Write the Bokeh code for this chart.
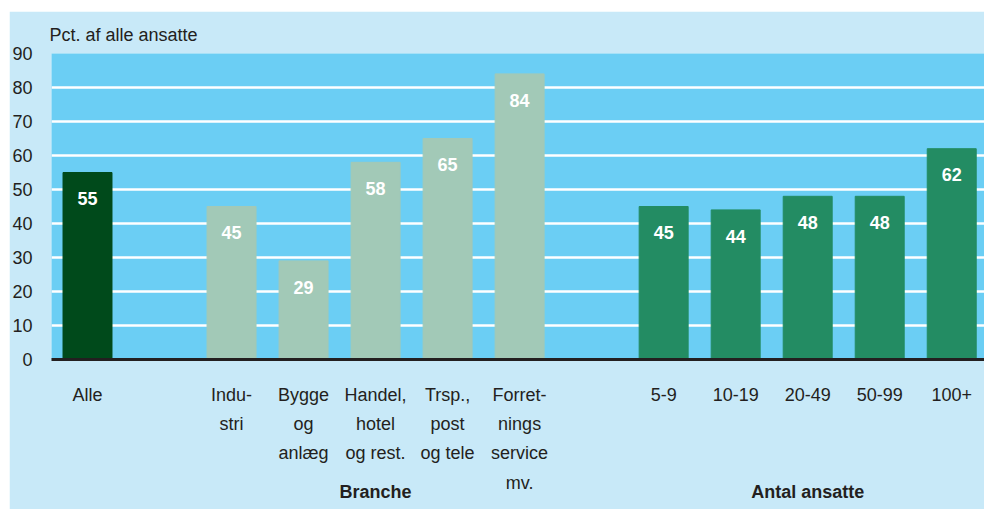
from bokeh.plotting import figure
from bokeh.models import ColumnDataSource, FixedTicker, Range1d, LinearAxis
from bokeh.embed import file_html
from bokeh.resources import INLINE
from bokeh.core.properties import value

# ---- data ----
total_label = ["Alle"]
total_values = [55]
branche_labels = ["Indu-\nstri", "Bygge\nog\nanlæg", "Handel,\nhotel\nog rest.",
                  "Trsp.,\npost\nog tele", "Forret-\nnings\nservice\nmv."]
branche_values = [45, 29, 58, 65, 84]
size_labels = ["5-9", "10-19", "20-49", "50-99", "100+"]
size_values = [45, 44, 48, 48, 62]
group_titles = ["Branche", "Antal ansatte"]
y_title = "Pct. af alle ansatte"
y_ticks = [0, 10, 20, 30, 40, 50, 60, 70, 80, 90]

FONT = "Liberation Sans"
C_OUT = "#C8E9F8"
C_FRAME = "#6BCEF4"
C_TOTAL = "#004A1B"
C_BRANCHE = "#A2C9B7"
C_SIZE = "#238C63"
C_TEXT = "#231F20"
FS = "18px"

# slot positions: total, gap, branche group, gap, size group
groups = [(total_label, total_values, C_TOTAL),
          (branche_labels, branche_values, C_BRANCHE),
          (size_labels, size_values, C_SIZE)]
xs, vals, cols, labs = [], [], [], []
pos = 0
group_centers = []
for labels, values, col in groups:
    start = pos
    for l, v in zip(labels, values):
        xs.append(pos); vals.append(v); cols.append(col); labs.append(l)
        pos += 1
    group_centers.append((start + pos - 1) / 2)
    pos += 1

src = ColumnDataSource(dict(x=xs, top=vals, color=cols,
                            txt=[str(v) for v in vals],
                            ty=[v - 7.7 for v in vals]))

p = figure(width=975, height=498, output_backend="svg", toolbar_location=None,
           x_range=Range1d(-0.5, 12.455), y_range=Range1d(0, 90),
           min_border_left=40, min_border_right=0, min_border_top=42,
           min_border_bottom=150, margin=(11, 0, 0, 9))
p.background_fill_color = C_FRAME
p.border_fill_color = C_OUT
p.outline_line_color = None

p.vbar(x="x", top="top", width=0.68, bottom=0, color="color", source=src)
p.text(x="x", y="ty", text="txt", source=src, text_color="white",
       text_font=value(FONT), text_font_size=FS, text_font_style="bold",
       text_align="center", text_baseline="middle")

# title
p.title.text = y_title
p.title.align = "left"
p.title.offset = -2
p.title.text_font = FONT
p.title.text_font_size = FS
p.title.text_font_style = "normal"
p.title.text_color = C_TEXT
p.title.standoff = 18
p.title.text_line_height = 0.9

# grid
p.xgrid.grid_line_color = None
p.ygrid.ticker = FixedTicker(ticks=y_ticks)
p.ygrid.grid_line_color = "white"
p.ygrid.grid_line_width = 2.5
p.ygrid.level = "underlay"

# y axis
p.yaxis.ticker = FixedTicker(ticks=y_ticks)
p.yaxis.axis_line_color = None
p.yaxis.major_tick_line_color = None
p.yaxis.minor_tick_line_color = None
p.yaxis.major_label_standoff = 13
p.yaxis.major_label_text_font = FONT
p.yaxis.major_label_text_font_size = FS
p.yaxis.major_label_text_color = C_TEXT

# x axis
p.xaxis.ticker = FixedTicker(ticks=xs)
p.xaxis.major_label_overrides = {x: l for x, l in zip(xs, labs)}
p.xaxis.axis_line_color = C_TEXT
p.xaxis.axis_line_width = 3
p.xaxis.major_tick_line_color = None
p.xaxis.minor_tick_line_color = None
p.xaxis.major_label_standoff = 19
p.xaxis.major_label_text_font = FONT
p.xaxis.major_label_text_font_size = FS
p.xaxis.major_label_text_color = C_TEXT
p.xaxis.major_label_text_line_height = 1.47

# group titles as a second axis below
gcent = group_centers[1:]
gax = LinearAxis(ticker=FixedTicker(ticks=gcent),
                 major_label_overrides={c: t for c, t in zip(gcent, group_titles)})
gax.axis_line_color = None
gax.major_tick_line_color = None
gax.minor_tick_line_color = None
gax.major_label_standoff = -20
gax.major_label_text_font = FONT
gax.major_label_text_font_size = FS
gax.major_label_text_font_style = "bold"
gax.major_label_text_color = C_TEXT
p.add_layout(gax, "below")

open("out.html", "w").write(file_html(p, INLINE))
